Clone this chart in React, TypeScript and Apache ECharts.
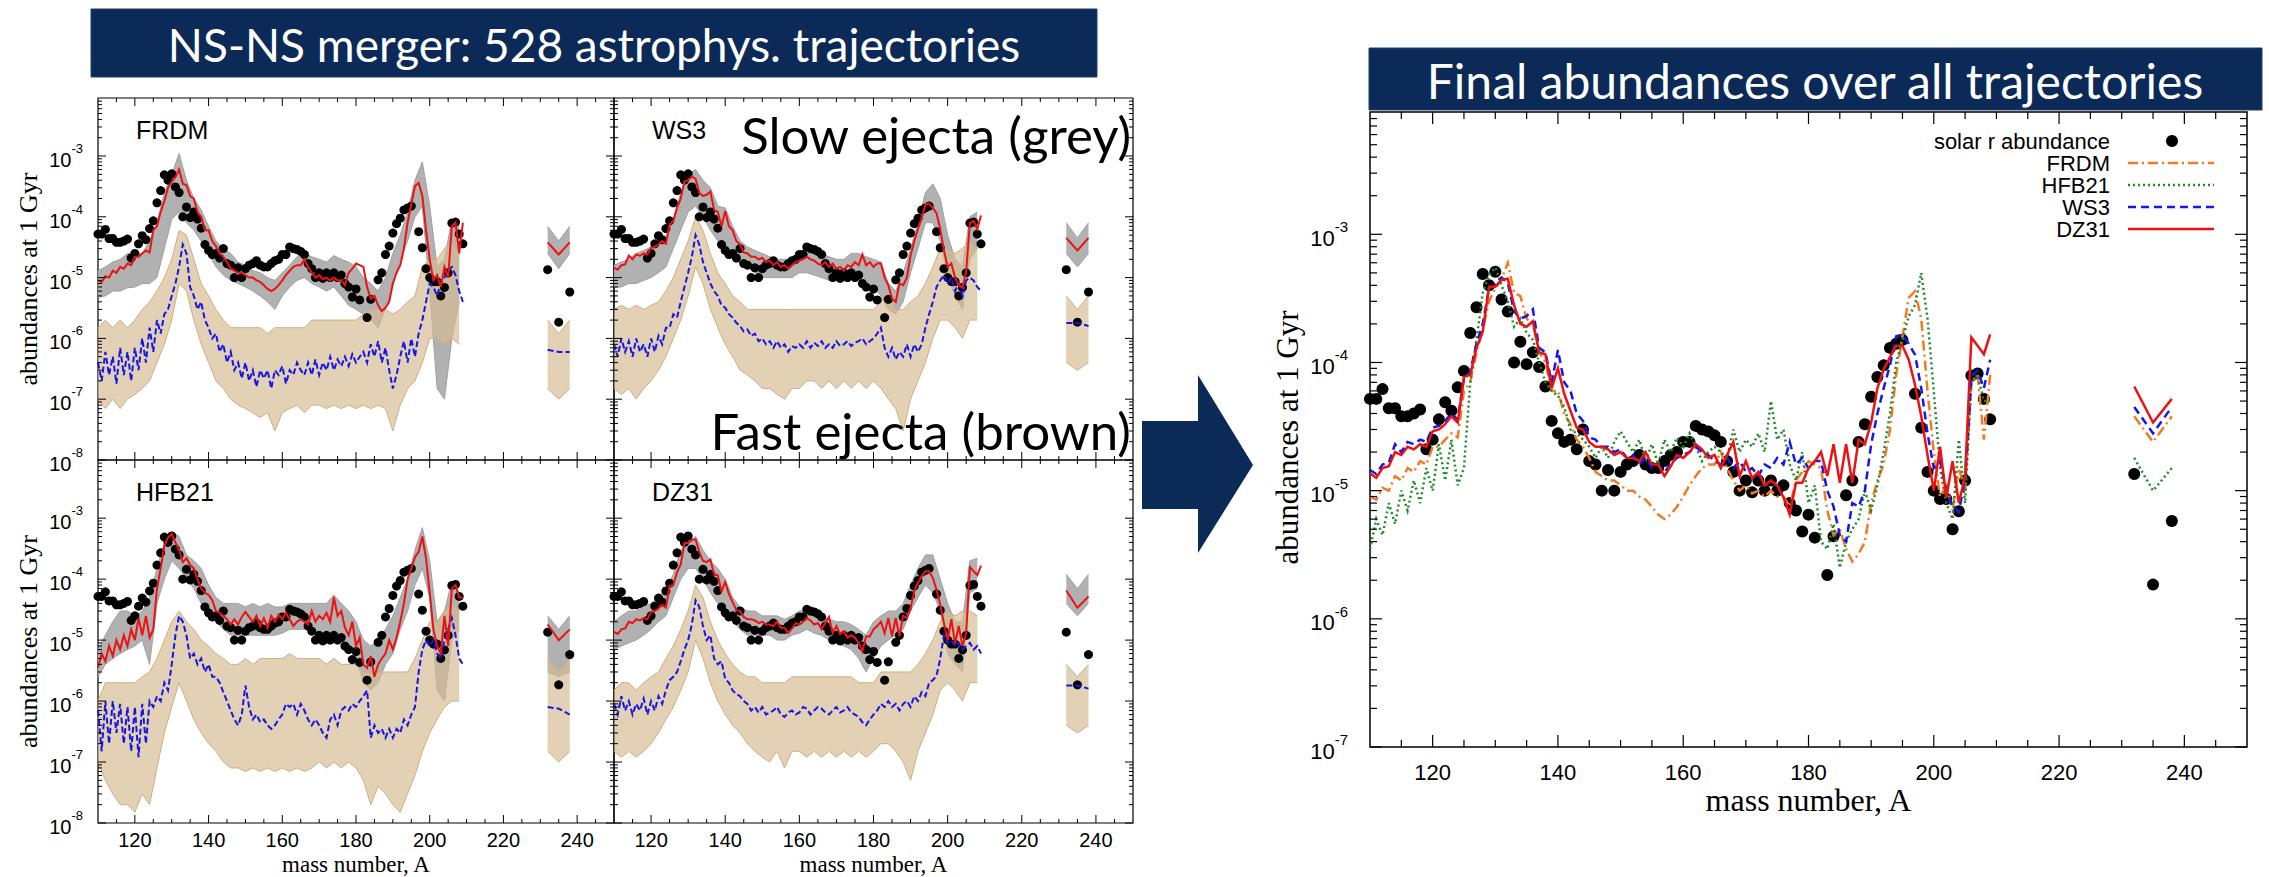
import React, { useEffect, useRef } from 'react';
import * as echarts from 'echarts';

// ---------------- DATA ----------------
// mass numbers 110..209 (one value per A) for model curves
const A_MAIN = Array.from({ length: 100 }, (_, i) => 110 + i);
// band envelopes sampled every 2 mass units (110..208)
const A_BAND = Array.from({ length: 50 }, (_, i) => 110 + 2 * i);
const A_ACT = [232, 235, 238];

// solar r-process abundances (black dots)
const SOLAR_A = [110,111,112,113,114,115,116,117,118,119,120,121,122,123,124,125,126,127,128,129,
  130,131,132,133,134,135,136,137,138,139,140,141,142,143,144,145,146,147,148,149,
  150,151,152,153,154,155,156,157,158,159,160,161,162,163,164,165,166,167,168,169,
  170,171,172,173,174,175,176,177,178,179,180,181,183,184,186,187,188,189,190,191,
  192,193,194,195,197,198,199,200,201,202,203,204,205,206,207,208,209,232,235,238];
const SOLAR_V = [5.2e-5,5.2e-5,6.2e-5,4.4e-5,4.4e-5,3.8e-5,3.8e-5,4.0e-5,4.3e-5,2.1e-5,
  2.5e-5,3.6e-5,4.9e-5,4.2e-5,6.4e-5,8.6e-5,1.7e-4,2.7e-4,4.9e-4,4.0e-4,
  5.1e-4,3.1e-4,2.5e-4,1.0e-4,1.45e-4,9.7e-5,1.2e-4,9.2e-5,6.5e-5,3.5e-5,
  2.8e-5,2.4e-5,2.5e-5,2.1e-5,3.0e-5,1.7e-5,1.6e-5,1.0e-5,1.45e-5,1.0e-5,
  1.4e-5,1.6e-5,1.7e-5,1.9e-5,1.6e-5,1.5e-5,1.5e-5,1.7e-5,1.9e-5,2.0e-5,
  2.4e-5,2.4e-5,3.2e-5,3.0e-5,2.9e-5,2.7e-5,2.4e-5,1.7e-5,1.4e-5,1.0e-5,
  1.2e-5,9.7e-6,1.2e-5,1.0e-5,1.2e-5,1.0e-5,1.1e-5,8.0e-6,7.0e-6,4.8e-6,
  6.5e-6,4.3e-6,2.2e-6,4.4e-6,9.2e-6,1.2e-5,2.4e-5,3.3e-5,5.4e-5,7.7e-5,
  9.5e-5,1.3e-4,1.4e-4,1.5e-4,5.7e-5,3.1e-5,1.4e-5,1.0e-5,8.6e-6,8.6e-6,
  5.0e-6,6.9e-6,1.2e-5,7.9e-5,8.2e-5,5.2e-5,3.6e-5,1.35e-5,1.85e-6,5.8e-6];

// final abundances for the four mass models (A = 110..209)
const FRDM = [9.0e-6,8.5e-6,1.05e-5,1.0e-5,1.3e-5,1.2e-5,1.5e-5,1.4e-5,1.7e-5,1.6e-5,
  2.2e-5,2.2e-5,2.5e-5,2.8e-5,2.6e-5,6.0e-5,7.0e-5,1.2e-4,1.8e-4,3.0e-4,
  3.8e-4,4.5e-4,6.0e-4,3.5e-4,3.3e-4,2.2e-4,2.0e-4,1.2e-4,1.0e-4,6.0e-5,
  6.0e-5,4.0e-5,3.3e-5,2.5e-5,2.2e-5,1.8e-5,1.4e-5,1.3e-5,1.2e-5,1.2e-5,
  1.1e-5,1.0e-5,1.0e-5,9.0e-6,8.5e-6,7.5e-6,6.5e-6,6.0e-6,6.5e-6,7.5e-6,
  9.0e-6,1.1e-5,1.3e-5,1.5e-5,1.6e-5,1.6e-5,2.0e-5,1.5e-5,1.2e-5,1.0e-5,
  1.1e-5,9.5e-6,1.0e-5,9.0e-6,1.0e-5,9.0e-6,9.0e-6,7.5e-6,1.2e-5,1.4e-5,
  1.7e-5,1.6e-5,1.5e-5,7.0e-6,4.5e-6,5.0e-6,3.5e-6,2.8e-6,3.2e-6,4.0e-6,
  8.0e-6,1.2e-5,1.6e-5,3.0e-5,8.0e-5,1.6e-4,3.2e-4,3.6e-4,2.2e-4,6.0e-5,
  2.0e-5,9.0e-6,1.1e-5,7.0e-6,1.5e-5,1.0e-5,7.0e-5,8.0e-5,2.5e-5,8.0e-5];
const HFB21 = [3.5e-6,6.0e-6,4.5e-6,8.0e-6,5.5e-6,1.0e-5,7.0e-6,1.2e-5,8.0e-6,1.5e-5,
  1.0e-5,2.3e-5,1.2e-5,2.5e-5,1.1e-5,1.5e-5,7.0e-5,1.5e-4,3.5e-4,4.8e-4,
  5.5e-4,4.0e-4,3.0e-4,1.9e-4,2.2e-4,1.7e-4,1.5e-4,1.0e-4,7.0e-5,6.0e-5,
  5.5e-5,4.5e-5,3.0e-5,2.8e-5,2.5e-5,2.2e-5,1.8e-5,2.2e-5,1.8e-5,2.4e-5,
  2.9e-5,2.4e-5,2.0e-5,2.5e-5,1.7e-5,2.3e-5,1.6e-5,2.5e-5,2.0e-5,2.6e-5,
  2.2e-5,2.8e-5,2.2e-5,1.7e-5,2.0e-5,2.2e-5,2.0e-5,1.8e-5,3.0e-5,2.0e-5,
  2.5e-5,2.2e-5,2.8e-5,2.0e-5,5.0e-5,2.5e-5,3.0e-5,1.6e-5,1.2e-5,2.0e-5,
  8.0e-6,1.1e-5,4.0e-6,3.5e-6,5.5e-6,2.5e-6,4.0e-6,5.0e-6,6.0e-6,1.0e-5,
  7.0e-6,1.1e-5,2.0e-5,4.0e-5,1.0e-4,1.5e-4,2.3e-4,2.8e-4,5.0e-4,2.2e-4,
  6.0e-5,1.5e-5,8.0e-6,6.0e-6,2.5e-5,8.0e-6,7.0e-5,8.0e-5,5.0e-5,5.0e-5];
const WS3 = [1.45e-5,1.35e-5,1.6e-5,1.65e-5,2.3e-5,2.0e-5,2.4e-5,2.3e-5,2.5e-5,2.4e-5,
  3.1e-5,3.2e-5,3.5e-5,4.0e-5,3.6e-5,7.5e-5,8.5e-5,1.4e-4,2.0e-4,3.8e-4,
  4.0e-4,4.6e-4,4.2e-4,2.5e-4,2.2e-4,2.3e-4,2.6e-4,1.3e-4,1.2e-4,7.0e-5,
  1.25e-4,7.0e-5,6.0e-5,4.0e-5,3.5e-5,2.6e-5,2.5e-5,2.2e-5,2.2e-5,2.0e-5,
  2.1e-5,1.8e-5,1.9e-5,1.6e-5,1.8e-5,1.5e-5,1.6e-5,1.4e-5,1.6e-5,1.8e-5,
  1.9e-5,2.0e-5,2.2e-5,2.0e-5,1.9e-5,1.7e-5,1.6e-5,1.8e-5,1.5e-5,1.7e-5,
  1.4e-5,1.5e-5,1.3e-5,1.6e-5,1.5e-5,1.8e-5,1.6e-5,2.4e-5,1.6e-5,1.8e-5,
  1.5e-5,1.7e-5,1.7e-5,1.0e-5,7.5e-6,4.5e-6,4.0e-6,8.0e-6,7.5e-6,1.0e-5,
  2.3e-5,4.0e-5,6.3e-5,9.5e-5,1.6e-4,1.65e-4,1.4e-4,1.15e-4,6.3e-5,2.8e-5,
  1.5e-5,1.7e-5,1.0e-5,7.5e-6,6.8e-6,1.25e-5,7.8e-5,8.6e-5,6.3e-5,1.05e-4];
const DZ31 = [1.36e-5,1.26e-5,1.5e-5,1.55e-5,2.0e-5,1.9e-5,2.2e-5,2.1e-5,2.3e-5,2.2e-5,
  2.9e-5,3.0e-5,3.3e-5,3.8e-5,3.4e-5,7.7e-5,8.0e-5,1.3e-4,1.75e-4,3.9e-4,
  3.9e-4,4.4e-4,4.5e-4,2.8e-4,2.0e-4,1.9e-4,2.1e-4,1.2e-4,1.16e-4,6.3e-5,
  9.0e-5,5.7e-5,4.2e-5,3.1e-5,3.0e-5,2.4e-5,2.2e-5,2.2e-5,2.1e-5,1.9e-5,
  2.0e-5,1.8e-5,1.8e-5,1.7e-5,2.0e-5,1.6e-5,1.6e-5,1.3e-5,1.55e-5,1.9e-5,
  1.8e-5,2.0e-5,2.3e-5,2.1e-5,1.8e-5,1.9e-5,1.5e-5,1.9e-5,2.4e-5,1.3e-5,
  1.7e-5,1.25e-5,1.4e-5,1.1e-5,1.2e-5,1.1e-5,8.9e-6,6.5e-6,1.15e-5,1.15e-5,
  1.5e-5,1.7e-5,2.0e-5,1.3e-5,2.3e-5,1.15e-5,2.3e-5,1.15e-5,2.5e-5,2.3e-5,
  3.4e-5,6.3e-5,8.8e-5,1.1e-4,1.35e-4,1.35e-4,1.05e-4,6.7e-5,3.8e-5,1.9e-5,
  1.0e-5,2.2e-5,8.8e-6,1.7e-5,8.0e-6,1.3e-5,1.57e-4,1.35e-4,1.16e-4,1.66e-4];
// actinides (A = 232, 235, 238)
const FRDM_ACT = [3.8e-5, 2.4e-5, 3.8e-5];
const HFB21_ACT = [1.8e-5, 1.0e-5, 1.5e-5];
const WS3_ACT = [4.5e-5, 2.8e-5, 4.5e-5];
const DZ31_ACT = [6.5e-5, 3.4e-5, 5.2e-5];

// fast-ejecta averages (blue dashed, left panels), A = 110..209
const FRDM_FAST = [4e-7,2e-7,6e-7,2.5e-7,5e-7,1.8e-7,7e-7,2.5e-7,6e-7,2e-7,
  7e-7,3e-7,1e-6,4e-7,1.5e-6,6e-7,2e-6,1.2e-6,2.5e-6,3e-6,
  5e-6,8e-6,1.5e-5,3.5e-5,2.5e-5,7e-6,5e-6,3e-6,4e-6,2e-6,
  1.5e-6,1e-6,1.2e-6,6e-7,8e-7,4e-7,6e-7,3e-7,4e-7,2.2e-7,
  4e-7,2e-7,3e-7,1.6e-7,3e-7,2.2e-7,3e-7,1.5e-7,3e-7,2.5e-7,
  3.5e-7,1.8e-7,3e-7,2.5e-7,4e-7,3e-7,2.5e-7,4e-7,2.5e-7,4.5e-7,
  2.5e-7,4e-7,3e-7,5e-7,3e-7,4.5e-7,3.5e-7,5e-7,3.5e-7,5.5e-7,
  4e-7,5e-7,6e-7,4e-7,8e-7,5e-7,9e-7,4e-7,7e-7,3e-7,
  1.5e-7,2.5e-7,5e-7,9e-7,4e-7,1e-6,5e-7,1.2e-6,2e-6,4e-6,
  8e-6,7e-6,5e-6,8e-6,1e-5,1.3e-5,1.5e-5,1.1e-5,6e-6,4e-6];
const WS3_FAST = [8e-7,5e-7,1e-6,6e-7,9e-7,5e-7,1e-6,6e-7,8e-7,5e-7,
  1e-6,6e-7,1.1e-6,8e-7,1.5e-6,1.5e-6,2.5e-6,2.2e-6,4e-6,7e-6,
  1.2e-5,2.2e-5,5e-5,3.5e-5,1.8e-5,1.2e-5,8e-6,6e-6,5e-6,3.5e-6,
  3.2e-6,2.5e-6,2.2e-6,1.8e-6,1.6e-6,1.3e-6,1.4e-6,1.1e-6,1.2e-6,9e-7,
  1e-6,8e-7,9e-7,7e-7,9e-7,7e-7,8e-7,6e-7,7.5e-7,7e-7,
  8e-7,7e-7,9e-7,7e-7,8.5e-7,7.5e-7,9e-7,7e-7,8e-7,7e-7,
  9e-7,7.5e-7,8e-7,9e-7,7.5e-7,8.5e-7,9e-7,1e-6,8e-7,9e-7,
  1e-6,1.2e-6,1.5e-6,7e-7,5e-7,7e-7,4.5e-7,6e-7,5e-7,8e-7,
  5e-7,8e-7,6e-7,8e-7,1.5e-6,2.5e-6,4e-6,7e-6,9e-6,1.1e-5,
  8e-6,1e-5,6e-6,8e-6,5e-6,9e-6,1e-5,9e-6,7e-6,6e-6];
const HFB21_FAST = [7e-7,1.5e-7,1e-6,2e-7,1e-6,3e-7,9e-7,2e-7,8e-7,1.5e-7,
  8e-7,1.2e-7,9e-7,2e-7,1e-6,8e-7,1.2e-6,1e-6,2e-6,1.5e-6,
  4e-6,1.2e-5,2.5e-5,2e-5,1.2e-5,5e-6,6e-6,4e-6,5e-6,3e-6,
  4e-6,2.5e-6,2.5e-6,2e-6,1.4e-6,1e-6,7e-7,5e-7,4e-7,6e-7,
  1.8e-6,8e-7,5e-7,6e-7,4.5e-7,5e-7,4e-7,3.5e-7,4e-7,5e-7,
  6e-7,9e-7,8e-7,9e-7,6e-7,9e-7,7e-7,5e-7,4e-7,5e-7,
  4e-7,3e-7,2.5e-7,5e-7,6e-7,4e-7,7e-7,8e-7,7e-7,9e-7,
  8e-7,1e-6,1.2e-6,1.5e-6,2.5e-7,4e-7,3e-7,3.5e-7,2.5e-7,3.5e-7,
  2.5e-7,3.5e-7,3e-7,5e-7,4e-7,6e-7,8e-7,3e-6,7e-6,1e-5,
  8e-6,1e-5,6e-6,5e-6,1e-5,1.5e-5,2.3e-5,1.2e-5,5e-6,4e-6];
const DZ31_FAST = [9e-7,6e-7,1.2e-6,7e-7,1e-6,6e-7,9e-7,7e-7,1.1e-6,6e-7,
  1e-6,7e-7,1.2e-6,9e-7,1.5e-6,2.2e-6,2.5e-6,3e-6,4.5e-6,7e-6,
  1e-5,1.8e-5,4.5e-5,3.5e-5,1.7e-5,1e-5,1.2e-5,5e-6,4e-6,4.5e-6,
  2.3e-6,2e-6,1.5e-6,1.3e-6,1.2e-6,1e-6,9e-7,7e-7,8e-7,6.5e-7,
  8e-7,6e-7,6.5e-7,7e-7,8e-7,6e-7,5.5e-7,6.5e-7,7e-7,6e-7,
  6.5e-7,8e-7,7.5e-7,6e-7,7e-7,8e-7,7.5e-7,6.5e-7,6e-7,7e-7,
  8e-7,6.5e-7,7e-7,8e-7,6.5e-7,6e-7,5.5e-7,4.5e-7,4e-7,5e-7,
  6e-7,7e-7,9e-7,8e-7,1e-6,8e-7,9e-7,7e-7,9e-7,1e-6,
  8e-7,1.2e-6,1e-6,1.4e-6,1.2e-6,2e-6,2.2e-6,2.6e-6,5e-6,1.2e-5,
  9e-6,1e-5,8e-6,9e-6,7e-6,8e-6,9e-6,7e-6,8e-6,6e-6];
const FRDM_FAST_ACT = [6.5e-7, 6e-7, 6e-7];
const WS3_FAST_ACT = [1.8e-6, 1.8e-6, 1.6e-6];
const HFB21_FAST_ACT = [8e-7, 7.5e-7, 6e-7];
const DZ31_FAST_ACT = [1.8e-6, 1.8e-6, 1.6e-6];

// slow-ejecta trajectory spread (grey band), A = 110..208 step 2
const FRDM_GREY_LO = [4.7e-6,5e-6,6e-6,6e-6,6.8e-6,7e-6,8e-6,8e-6,1e-5,3e-5,
  9e-5,1.2e-4,8e-5,6e-5,4e-5,2.5e-5,1.5e-5,1.1e-5,9e-6,8e-6,
  7e-6,6e-6,5e-6,4e-6,3e-6,5e-6,7e-6,9e-6,1e-5,8e-6,
  7e-6,6e-6,7e-6,5e-6,3.5e-6,3e-6,2.5e-6,2e-6,1.5e-6,3e-6,
  8e-6,2e-5,4e-5,1e-4,1.5e-4,6e-6,1.5e-7,1e-7,1e-6,4e-6];
const FRDM_GREY_HI = [1.3e-5,1.5e-5,1.8e-5,2e-5,2.5e-5,2.5e-5,2.5e-5,4e-5,8e-5,2.5e-4,
  5e-4,1.1e-3,4e-4,2e-4,1.3e-4,7e-5,4e-5,3e-5,2.5e-5,1.8e-5,
  1.6e-5,1.3e-5,1.2e-5,1e-5,9e-6,1.2e-5,1.6e-5,2.2e-5,2.5e-5,2.2e-5,
  2e-5,1.8e-5,2.3e-5,2e-5,1.8e-5,1.5e-5,1e-5,8e-6,6e-6,1e-5,
  2.5e-5,5e-5,1.2e-4,4e-4,8e-4,1.5e-4,1.5e-5,2e-5,9e-5,8e-5];
const WS3_GREY_LO = [7e-6,7e-6,8e-6,8e-6,9e-6,1e-5,1.2e-5,1.5e-5,3e-5,6e-5,
  1.2e-4,1.5e-4,1e-4,6e-5,4e-5,3e-5,2.2e-5,1.7e-5,1.5e-5,1.2e-5,
  1e-5,1e-5,1e-5,1e-5,1e-5,1.2e-5,1.2e-5,1.1e-5,1e-5,9e-6,
  9e-6,9e-6,1e-5,9e-6,8e-6,7e-6,5e-6,3e-6,2.5e-6,4e-6,
  1.2e-5,3e-5,8e-5,8e-5,4e-5,1e-5,5e-6,3e-6,2e-5,3e-5];
const WS3_GREY_HI = [1.6e-5,1.8e-5,2e-5,2.5e-5,2.8e-5,3.2e-5,3.5e-5,4.5e-5,9e-5,2.5e-4,
  5e-4,6e-4,4e-4,3e-4,1.5e-4,1.4e-4,7e-5,4e-5,3.2e-5,2.8e-5,
  2.5e-5,2.2e-5,2e-5,2e-5,2e-5,2.5e-5,2.5e-5,2.5e-5,2.5e-5,2.2e-5,
  2e-5,2e-5,2.5e-5,2.5e-5,2.2e-5,2e-5,1.8e-5,8e-6,6e-6,1.2e-5,
  3e-5,8e-5,2.5e-4,3.5e-4,2e-4,5e-5,2e-5,1.5e-5,1e-4,1.2e-4];
const HFB21_GREY_LO = [2.5e-6,4e-6,5e-6,6e-6,7e-6,8e-6,1e-5,4e-6,4e-5,1e-4,
  2e-4,1.5e-4,1e-4,7e-5,4e-5,2.5e-5,2e-5,1.5e-5,1.2e-5,1.2e-5,
  1.2e-5,1.2e-5,1.2e-5,1.2e-5,1.2e-5,1.3e-5,1.5e-5,1.5e-5,1.5e-5,1.5e-5,
  1.2e-5,1.2e-5,1.2e-5,1e-5,8e-6,5e-6,2e-6,1.5e-6,2e-6,4e-6,
  6e-6,1.5e-5,3e-5,8e-5,1.5e-4,5e-5,1.5e-6,1e-6,1e-5,1.5e-5];
const HFB21_GREY_HI = [7e-6,1.2e-5,2e-5,3e-5,3e-5,2.5e-5,3e-5,5e-5,1.5e-4,4e-4,
  6e-4,5e-4,2.5e-4,2e-4,1.5e-4,8e-5,5e-5,4e-5,4e-5,4e-5,
  3.5e-5,4e-5,3.5e-5,4e-5,3.5e-5,3.5e-5,4e-5,4e-5,4e-5,4e-5,
  4e-5,4e-5,5.5e-5,4e-5,3e-5,2e-5,1e-5,8e-6,1e-5,1.5e-5,
  2.5e-5,5e-5,1e-4,3e-4,7e-4,2e-4,2e-5,3e-5,9e-5,6e-5];
const DZ31_GREY_LO = [7e-6,8e-6,9e-6,1e-5,1.2e-5,1.5e-5,2e-5,2.5e-5,5e-5,1e-4,
  1.5e-4,1.5e-4,1e-4,6e-5,4e-5,3e-5,2e-5,1.5e-5,1.2e-5,1.2e-5,
  1.2e-5,1.2e-5,1e-5,1e-5,1.2e-5,1.3e-5,1.5e-5,1.3e-5,1.2e-5,1e-5,
  9e-6,8e-6,7e-6,5e-6,3e-6,5e-6,8e-6,1e-5,1.2e-5,1.5e-5,
  3e-5,5e-5,8e-5,6e-5,3e-5,6e-6,4e-6,3e-6,6e-5,7e-5];
const DZ31_GREY_HI = [2e-5,2.5e-5,3e-5,3e-5,3.5e-5,4e-5,5e-5,7e-5,1.2e-4,3e-4,
  4e-4,5e-4,3e-4,2e-4,1.5e-4,1e-4,5e-5,3.5e-5,3e-5,3e-5,
  2.5e-5,2.5e-5,2.5e-5,2.2e-5,2.5e-5,3e-5,3e-5,3e-5,2.5e-5,2.2e-5,
  2e-5,2e-5,1.8e-5,1.5e-5,1.2e-5,2e-5,2.5e-5,3e-5,3e-5,4e-5,
  8e-5,1.5e-4,2.5e-4,2.5e-4,1e-4,4e-5,2e-5,2e-5,2e-4,2.2e-4];

// fast-ejecta trajectory spread (brown band), A = 110..208 step 2
const FRDM_TAN_LO = [1e-7,7e-8,1e-7,7e-8,1e-7,1.2e-7,1.5e-7,2e-7,4e-7,8e-7,
  2e-6,8e-6,6e-6,2e-6,8e-7,4e-7,2e-7,1.5e-7,1e-7,8e-8,
  7e-8,6e-8,5e-8,6e-8,3e-8,6e-8,7e-8,8e-8,6e-8,8e-8,
  8e-8,7e-8,8e-8,7e-8,8e-8,7e-8,8e-8,7e-8,8e-8,7e-8,
  3e-8,8e-8,1.5e-7,2e-7,4e-7,1e-6,1e-6,8e-7,1e-6,8e-7];
const FRDM_TAN_HI = [1.5e-6,2e-6,1.5e-6,2e-6,1.5e-6,2e-6,3e-6,4e-6,6e-6,1e-5,
  2e-5,6e-5,5e-5,2e-5,8e-6,5e-6,3e-6,2e-6,1.5e-6,1.5e-6,
  1.5e-6,1.5e-6,1.5e-6,1.2e-6,1.5e-6,1.5e-6,1.5e-6,1.5e-6,1.5e-6,2e-6,
  2e-6,2e-6,2e-6,2e-6,2e-6,2e-6,2.5e-6,3e-6,3e-6,3e-6,
  2.5e-6,3e-6,4e-6,5e-6,1.5e-5,2e-5,2e-5,3e-5,4e-5,2.5e-5];
const WS3_TAN_LO = [1.5e-7,1.2e-7,1.5e-7,1e-7,1.5e-7,2e-7,3e-7,5e-7,1e-6,2e-6,
  5e-6,1.5e-5,8e-6,3e-6,1.5e-6,8e-7,5e-7,3e-7,2.5e-7,2e-7,
  1.5e-7,1.5e-7,1.2e-7,1e-7,1.5e-7,1.5e-7,2e-7,2e-7,1.5e-7,2e-7,
  1.5e-7,2e-7,1.5e-7,2e-7,1.5e-7,2e-7,1.5e-7,1e-7,7e-8,3e-8,
  1e-7,2e-7,4e-7,1e-6,2e-6,2e-6,1.5e-6,1e-6,2e-6,2e-6];
const WS3_TAN_HI = [3e-6,3.5e-6,3e-6,3.5e-6,3e-6,3.5e-6,4e-6,6e-6,1e-5,2e-5,
  4e-5,1e-4,6e-5,2.5e-5,1.2e-5,8e-6,5e-6,4e-6,3e-6,3e-6,
  3e-6,3e-6,3e-6,3e-6,3e-6,3e-6,3e-6,3e-6,3e-6,3e-6,
  3e-6,3e-6,3e-6,3e-6,3e-6,3e-6,4e-6,6e-6,3e-6,3e-6,
  4e-6,5e-6,8e-6,1.5e-5,3e-5,3e-5,2.5e-5,3e-5,4e-5,3e-5];
const HFB21_TAN_LO = [1e-7,5e-8,3e-8,2e-8,2e-8,1.5e-8,3e-8,2e-8,8e-8,3e-7,
  8e-7,2e-6,1e-6,5e-7,3e-7,2e-7,1.5e-7,1e-7,8e-8,8e-8,
  7e-8,8e-8,7e-8,8e-8,7e-8,8e-8,7e-8,8e-8,7e-8,8e-8,
  1e-7,8e-8,1e-7,8e-8,1e-7,8e-8,5e-8,2e-8,4e-8,3e-8,
  2e-8,1.5e-8,3e-8,6e-8,1.5e-7,3e-7,5e-7,8e-7,1e-6,1e-6];
const HFB21_TAN_HI = [1e-6,2e-6,2e-6,2e-6,2e-6,2e-6,2.5e-6,3e-6,5e-6,1e-5,
  2e-5,3e-5,2e-5,1.5e-5,1e-5,8e-6,6e-6,5e-6,4e-6,4e-6,
  5e-6,4e-6,5e-6,5e-6,5e-6,5e-6,6e-6,5e-6,5e-6,5e-6,
  5e-6,4e-6,5e-6,4e-6,4e-6,4e-6,3e-6,3e-6,3e-6,3e-6,
  3e-6,3e-6,3e-6,5e-6,1e-5,2e-5,2e-5,3e-5,4e-5,3e-5];
const DZ31_TAN_LO = [1.5e-7,1.2e-7,1.5e-7,1.2e-7,1.5e-7,2e-7,3e-7,5e-7,8e-7,1.5e-6,
  3e-6,1e-5,5e-6,2e-6,1e-6,6e-7,4e-7,3e-7,2e-7,1.5e-7,
  1.2e-7,1e-7,1.5e-7,8e-8,1.5e-7,1.5e-7,1.2e-7,1.5e-7,1.2e-7,1.5e-7,
  1.2e-7,1.5e-7,1.2e-7,1.5e-7,1.2e-7,1.5e-7,2e-7,2e-7,1.5e-7,1e-7,
  5e-8,1.5e-7,3e-7,6e-7,1.5e-6,2e-6,1.5e-6,1e-6,2e-6,2e-6];
const DZ31_TAN_HI = [1.5e-6,2e-6,2e-6,1.5e-6,2e-6,2.5e-6,3e-6,5e-6,8e-6,1.5e-5,
  3e-5,8e-5,5e-5,2e-5,1e-5,6e-6,4e-6,3e-6,2.5e-6,2.5e-6,
  2e-6,2e-6,2e-6,2e-6,2.5e-6,2.5e-6,2.5e-6,2.5e-6,2.5e-6,2.5e-6,
  2.5e-6,2.5e-6,2.5e-6,2e-6,2e-6,2e-6,3e-6,3e-6,3e-6,3e-6,
  3e-6,4e-6,6e-6,1e-5,2e-5,3e-5,2.5e-5,3e-5,3e-5,2.5e-5];

// actinide bands (A = 232, 235, 238)
const FRDM_GREY_ACT_LO = [2.5e-5, 1.4e-5, 2.5e-5], FRDM_GREY_ACT_HI = [7e-5, 4e-5, 7e-5];
const FRDM_TAN_ACT_LO = [1.5e-7, 1e-7, 1.5e-7], FRDM_TAN_ACT_HI = [2e-6, 1.2e-6, 2e-6];
const WS3_GREY_ACT_LO = [2.5e-5, 1.5e-5, 2.5e-5], WS3_GREY_ACT_HI = [8e-5, 4.5e-5, 8e-5];
const WS3_TAN_ACT_LO = [4e-7, 3e-7, 4e-7], WS3_TAN_ACT_HI = [5e-6, 3e-6, 5e-6];
const HFB21_GREY_ACT_LO = [3e-6, 2.5e-6, 3e-6], HFB21_GREY_ACT_HI = [2.5e-5, 1.5e-5, 2.5e-5];
const HFB21_TAN_ACT_LO = [1.5e-7, 1e-7, 1.5e-7], HFB21_TAN_ACT_HI = [5e-6, 3e-6, 5e-6];
const DZ31_GREY_ACT_LO = [4e-5, 2.5e-5, 4e-5], DZ31_GREY_ACT_HI = [1.2e-4, 7e-5, 1.2e-4];
const DZ31_TAN_ACT_LO = [4e-7, 3e-7, 4e-7], DZ31_TAN_ACT_HI = [4e-6, 2.5e-6, 4e-6];

const X_TICK_LABELS = [120, 140, 160, 180, 200, 220, 240];
const LEGEND_NAMES = ['solar r abundance', 'FRDM', 'HFB21', 'WS3', 'DZ31'];

// ---------------- STYLE / LAYOUT ----------------
const SANS = 'Liberation Sans';
const SERIF = 'Liberation Serif';
const SLIDE = 'Lato';
const NAVY = '#0b2a57';
const RED = '#ee1111';
const BLUE = '#1616e6';
const GREEN = '#1f8a2a';
const ORANGE = '#f27a22';
const GREY_FILL = '#adadad';
const GREY_EDGE = '#a0a0a0';
const TAN_FILL = '#d6bb92';
const TAN_EDGE = '#cfae80';

const LEFT_GRIDS = [
  { left: 98, top: 98, width: 516, height: 362 },
  { left: 614, top: 98, width: 519, height: 362 },
  { left: 98, top: 460, width: 516, height: 363 },
  { left: 614, top: 460, width: 519, height: 363 },
];
const RIGHT_GRID = { left: 1370, top: 112, width: 877, height: 635 };

const PANELS = [
  { name: 'FRDM', model: FRDM, modelAct: FRDM_ACT, fast: FRDM_FAST, fastAct: FRDM_FAST_ACT,
    gLo: FRDM_GREY_LO, gHi: FRDM_GREY_HI, tLo: FRDM_TAN_LO, tHi: FRDM_TAN_HI,
    gaLo: FRDM_GREY_ACT_LO, gaHi: FRDM_GREY_ACT_HI, taLo: FRDM_TAN_ACT_LO, taHi: FRDM_TAN_ACT_HI },
  { name: 'WS3', model: WS3, modelAct: WS3_ACT, fast: WS3_FAST, fastAct: WS3_FAST_ACT,
    gLo: WS3_GREY_LO, gHi: WS3_GREY_HI, tLo: WS3_TAN_LO, tHi: WS3_TAN_HI,
    gaLo: WS3_GREY_ACT_LO, gaHi: WS3_GREY_ACT_HI, taLo: WS3_TAN_ACT_LO, taHi: WS3_TAN_ACT_HI },
  { name: 'HFB21', model: HFB21, modelAct: HFB21_ACT, fast: HFB21_FAST, fastAct: HFB21_FAST_ACT,
    gLo: HFB21_GREY_LO, gHi: HFB21_GREY_HI, tLo: HFB21_TAN_LO, tHi: HFB21_TAN_HI,
    gaLo: HFB21_GREY_ACT_LO, gaHi: HFB21_GREY_ACT_HI, taLo: HFB21_TAN_ACT_LO, taHi: HFB21_TAN_ACT_HI },
  { name: 'DZ31', model: DZ31, modelAct: DZ31_ACT, fast: DZ31_FAST, fastAct: DZ31_FAST_ACT,
    gLo: DZ31_GREY_LO, gHi: DZ31_GREY_HI, tLo: DZ31_TAN_LO, tHi: DZ31_TAN_HI,
    gaLo: DZ31_GREY_ACT_LO, gaHi: DZ31_GREY_ACT_HI, taLo: DZ31_TAN_ACT_LO, taHi: DZ31_TAN_ACT_HI },
];

// ---------------- HELPERS ----------------
const pairs = (xs: number[], ys: number[]) => xs.map((x, i) => [x, ys[i]]);

function yTicks(min: number, max: number) {
  const major: number[] = [];
  const minor: number[] = [];
  for (let k = -9; k <= -1; k++) {
    const d = Math.pow(10, k);
    if (d >= min * 0.999 && d <= max * 1.001) major.push(d);
    for (let m = 2; m <= 9; m++) {
      const v = m * d;
      if (v > min && v < max) minor.push(v);
    }
  }
  return { major, minor };
}
const X_MINOR: number[] = [];
for (let v = 115; v < 250; v += 5) if (v % 20 !== 0) X_MINOR.push(v);

function tickSeries(gi: number, yMin: number, yMax: number, majLen: number, minLen: number, lw: number) {
  const yt = yTicks(yMin, yMax);
  return {
    type: 'custom', xAxisIndex: gi, yAxisIndex: gi, silent: true, z: 20,
    data: [[180, 1e-5]],
    renderItem: (params: any, api: any) => {
      const cs = params.coordSys;
      const x0 = cs.x, x1 = cs.x + cs.width, yT = cs.y, yB = cs.y + cs.height;
      const ch: any[] = [];
      const seg = (a: number, b: number, c: number, d: number) =>
        ch.push({ type: 'line', shape: { x1: a, y1: b, x2: c, y2: d }, style: { stroke: '#000', lineWidth: lw } });
      X_TICK_LABELS.forEach((v) => { const p = api.coord([v, 1e-5])[0]; seg(p, yB, p, yB - majLen); seg(p, yT, p, yT + majLen); });
      X_MINOR.forEach((v) => { const p = api.coord([v, 1e-5])[0]; seg(p, yB, p, yB - minLen); seg(p, yT, p, yT + minLen); });
      yt.major.forEach((v) => { const p = api.coord([180, v])[1]; seg(x0, p, x0 + majLen, p); seg(x1, p, x1 - majLen, p); });
      yt.minor.forEach((v) => { const p = api.coord([180, v])[1]; seg(x0, p, x0 + minLen, p); seg(x1, p, x1 - minLen, p); });
      return { type: 'group', children: ch };
    },
  };
}

function bandSeries(gi: number, xs: number[], lo: number[], hi: number[], fill: string, edge: string, opacity: number, z: number) {
  return {
    type: 'custom', xAxisIndex: gi, yAxisIndex: gi, silent: true, z,
    data: xs.map((x, i) => [x, lo[i], hi[i]]),
    encode: { x: 0, y: [1, 2] },
    renderItem: (params: any, api: any) => {
      if (params.dataIndex !== 0) return null;
      const upper = xs.map((x, i) => api.coord([x, hi[i]]));
      const lower = xs.map((x, i) => api.coord([x, lo[i]]));
      return {
        type: 'group',
        children: [
          { type: 'polygon', shape: { points: upper.concat(lower.slice().reverse()) }, style: { fill, opacity } },
          { type: 'polyline', shape: { points: upper }, style: { stroke: edge, lineWidth: 1, fill: null } },
          { type: 'polyline', shape: { points: lower }, style: { stroke: edge, lineWidth: 1, fill: null } },
        ],
      };
    },
  };
}

function lineSeries(gi: number, data: any[], color: string, width: number, type: any, z: number) {
  return {
    type: 'line', xAxisIndex: gi, yAxisIndex: gi, data, symbol: 'none', showSymbol: false,
    silent: true, z, lineStyle: { color, width, type, cap: 'butt', join: 'miter' },
  };
}

function yLabel(show: boolean, fs: number, ss: number, margin: number) {
  return {
    show, margin,
    formatter: (v: number) => {
      const e = Math.log10(v);
      const r = Math.round(e);
      return Math.abs(e - r) < 1e-6 ? `{b|10}{s|${r}}` : '';
    },
    rich: {
      b: { fontSize: fs, fontFamily: SANS, color: '#000', lineHeight: fs + 8, verticalAlign: 'bottom' },
      s: { fontSize: ss, fontFamily: SANS, color: '#000', lineHeight: ss, verticalAlign: 'top' },
    },
  };
}
function xLabel(show: boolean, fs: number, margin: number) {
  return {
    show, margin, fontSize: fs, fontFamily: SANS, color: '#000',
    formatter: (v: number) => (X_TICK_LABELS.indexOf(v) >= 0 ? String(v) : ''),
  };
}
const centerText = (text: string, x: number, y: number, font: string, fill: string, align = 'center', extra: any = {}) => ({
  type: 'text', x, y, z: 50, ...extra,
  style: { text, font, fill, textAlign: align, textVerticalAlign: 'middle', align, verticalAlign: 'middle' },
});

function buildOption() {
  const grid: any[] = [];
  const xAxis: any[] = [];
  const yAxis: any[] = [];
  const series: any[] = [];
  const graphic: any[] = [];

  LEFT_GRIDS.forEach((g, i) => {
    grid.push({ ...g, show: true, borderColor: '#000', borderWidth: 1.2, backgroundColor: 'transparent' });
    const bottom = i >= 2;
    const leftCol = i % 2 === 0;
    xAxis.push({
      gridIndex: i, type: 'value', min: 110, max: 250, splitNumber: 7,
      axisLine: { show: false }, axisTick: { show: false }, splitLine: { show: false },
      axisLabel: xLabel(bottom, 20, 7),
    });
    yAxis.push({
      gridIndex: i, type: 'log', logBase: 10, min: 1e-8, max: 9e-3,
      axisLine: { show: false }, axisTick: { show: false }, splitLine: { show: false }, minorTick: { show: false },
      axisLabel: yLabel(leftCol, 20, 13, 15),
    });
    const p = PANELS[i];
    series.push(bandSeries(i, A_BAND, p.gLo, p.gHi, GREY_FILL, GREY_EDGE, 0.95, 1));
    series.push(bandSeries(i, A_ACT, p.gaLo, p.gaHi, GREY_FILL, GREY_EDGE, 0.95, 1));
    series.push(bandSeries(i, A_BAND, p.tLo, p.tHi, TAN_FILL, TAN_EDGE, 0.68, 2));
    series.push(bandSeries(i, A_ACT, p.taLo, p.taHi, TAN_FILL, TAN_EDGE, 0.68, 2));
    series.push({
      type: 'scatter', xAxisIndex: i, yAxisIndex: i, silent: true, z: 3,
      data: pairs(SOLAR_A, SOLAR_V), symbol: 'circle', symbolSize: 9, itemStyle: { color: '#000', opacity: 1 },
    });
    series.push(lineSeries(i, pairs(A_MAIN, p.fast), BLUE, 2, [6, 3], 4));
    series.push(lineSeries(i, pairs(A_ACT, p.fastAct), BLUE, 2, [6, 3], 4));
    series.push(lineSeries(i, pairs(A_MAIN, p.model), RED, 2, 'solid', 5));
    series.push(lineSeries(i, pairs(A_ACT, p.modelAct), RED, 2, 'solid', 5));
    series.push(tickSeries(i, 1e-8, 9e-3, 8, 4, 1));

    graphic.push(centerText(p.name, g.left + 38, g.top + 32, `25px "${SANS}"`, '#000', 'left'));
    if (leftCol) {
      graphic.push(centerText('abundances at 1 Gyr', 28, g.top + g.height / 2, `26px "${SERIF}"`, '#000', 'center', { rotation: Math.PI / 2 }));
    }
    if (bottom) {
      graphic.push(centerText('mass number, A', g.left + g.width / 2, 864, `23px "${SERIF}"`, '#000'));
    }
  });

  // right chart
  const ri = 4;
  grid.push({ ...RIGHT_GRID, show: true, borderColor: '#000', borderWidth: 1.5, backgroundColor: 'transparent' });
  xAxis.push({
    gridIndex: ri, type: 'value', min: 110, max: 250, splitNumber: 7,
    axisLine: { show: false }, axisTick: { show: false }, splitLine: { show: false },
    axisLabel: xLabel(true, 22, 14),
  });
  yAxis.push({
    gridIndex: ri, type: 'log', logBase: 10, min: 1e-7, max: 9e-3,
    axisLine: { show: false }, axisTick: { show: false }, splitLine: { show: false }, minorTick: { show: false },
    axisLabel: yLabel(true, 22, 15, 22),
  });
  series.push({
    type: 'scatter', xAxisIndex: ri, yAxisIndex: ri, silent: true, z: 3,
    data: pairs(SOLAR_A, SOLAR_V), symbol: 'circle', symbolSize: 12, itemStyle: { color: '#000', opacity: 1 },
  });
  const rightLines: [number[], number[], string, any][] = [
    [FRDM, FRDM_ACT, ORANGE, [10, 4, 2, 4]],
    [HFB21, HFB21_ACT, GREEN, [2, 3]],
    [WS3, WS3_ACT, BLUE, [8, 5]],
    [DZ31, DZ31_ACT, RED, 'solid'],
  ];
  rightLines.forEach(([m, a, c, t], k) => {
    series.push(lineSeries(ri, pairs(A_MAIN, m), c, 2.5, t, 4 + k));
    series.push(lineSeries(ri, pairs(A_ACT, a), c, 2.5, t, 4 + k));
  });
  series.push(tickSeries(ri, 1e-7, 9e-3, 12, 7, 1.2));

  graphic.push(centerText('abundances at 1 Gyr', 1287, RIGHT_GRID.top + RIGHT_GRID.height / 2 + 8, `31px "${SERIF}"`, '#000', 'center', { rotation: Math.PI / 2 }));
  graphic.push(centerText('mass number, A', RIGHT_GRID.left + RIGHT_GRID.width / 2, 800, `32px "${SERIF}"`, '#000'));

  // legend (right chart)
  const legendStyles: any[] = [null, [ORANGE, [10, 4, 2, 4]], [GREEN, [2, 3]], [BLUE, [8, 5]], [RED, null]];
  LEGEND_NAMES.forEach((name, k) => {
    const y = 141 + k * 22;
    graphic.push(centerText(name, 2110, y, `22px "${SANS}"`, '#000', 'right'));
    if (k === 0) {
      graphic.push({ type: 'circle', shape: { cx: 2172, cy: y, r: 6 }, style: { fill: '#000' }, z: 50 });
    } else {
      const [c, dash] = legendStyles[k];
      graphic.push({
        type: 'line', shape: { x1: 2128, y1: y, x2: 2214, y2: y }, z: 50,
        style: { stroke: c, lineWidth: 2.5, lineDash: dash || undefined },
      });
    }
  });

  // slide decorations
  graphic.push({ type: 'rect', shape: { x: 91, y: 9, width: 1006, height: 68 }, style: { fill: NAVY, stroke: '#23416e', lineWidth: 1 }, z: 40 });
  graphic.push(centerText('NS-NS merger: 528 astrophys. trajectories', 594, 44, `46px "${SLIDE}"`, '#fff'));
  graphic.push({ type: 'rect', shape: { x: 1369, y: 48, width: 893, height: 62 }, style: { fill: NAVY, stroke: '#23416e', lineWidth: 1 }, z: 40 });
  graphic.push(centerText('Final abundances over all trajectories', 1815, 80, `48px "${SLIDE}"`, '#fff'));
  graphic.push({
    type: 'polygon', z: 40,
    shape: { points: [[1142, 421], [1198, 421], [1198, 375], [1253, 465], [1198, 553], [1198, 509], [1142, 509]] },
    style: { fill: NAVY },
  });
  graphic.push(centerText('Slow ejecta (grey)', 1131, 134, `51px "${SLIDE}"`, '#000', 'right'));
  graphic.push(centerText('Fast ejecta (brown)', 1131, 430, `51px "${SLIDE}"`, '#000', 'right'));

  return {
    animation: false,
    backgroundColor: '#ffffff',
    textStyle: { fontFamily: SANS },
    grid, xAxis, yAxis, series, graphic,
  };
}

export default function App() {
  const ref = useRef<HTMLDivElement>(null);
  useEffect(() => {
    if (!ref.current) return;
    const chart = echarts.init(ref.current, null, { renderer: 'svg' });
    chart.setOption(buildOption() as any);
    return () => chart.dispose();
  }, []);
  return (
    <div
      ref={ref}
      style={{ position: 'absolute', left: 0, top: 0, width: 2269, height: 877, background: '#fff' }}
    />
  );
}
